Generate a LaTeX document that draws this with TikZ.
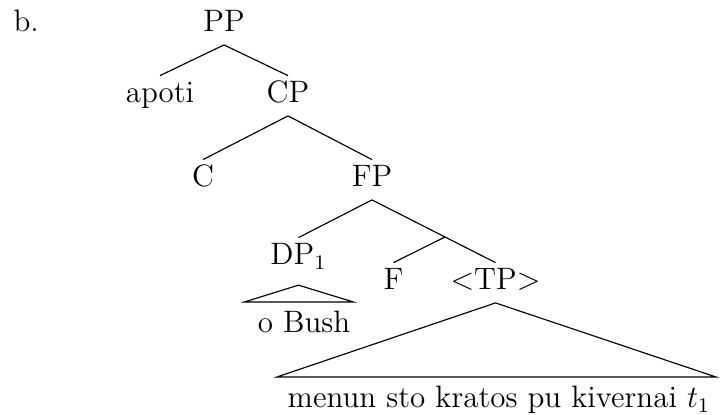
\documentclass[tikz,border=0pt]{standalone}
\begin{document}
\begin{tikzpicture}[x=0.387pt, y=-0.387pt,
  every node/.style={font=\fontsize{12}{14.4}\selectfont},
  lbl/.style={anchor=base, inner xsep=2pt, inner ysep=2pt, text height=8.4pt, text depth=2.8pt},
  leaf/.style={anchor=base, inner xsep=2pt, inner ysep=2pt, text height=9.8pt, text depth=2.8pt},
  branch/.style={line width=0.45pt}]
  \useasboundingbox (0,0) rectangle (721,415);

  % example label
  \node[anchor=base west, inner sep=0pt] (ex) at (13,32) {b.};

  % tree labels
  \node[lbl] (PP) at (224,32) {PP};
  \node[lbl] (apoti) at (160,103) {apoti};
  \node[lbl] (CP) at (288,103) {CP};
  \node[lbl] (C) at (203,187) {C};
  \node[lbl] (FP) at (372,187) {FP};
  \node[lbl, text depth=5.6pt] (DP) at (298.5,265) {DP$_1$};
  \coordinate (Fbar) at (445,237);
  \node[lbl] (F) at (393.5,290) {F};
  \node[lbl] (TP) at (495.5,290) {$<$TP$>$};
  \node[leaf] (bush) at (304,333) {o Bush};
  \node[leaf] (menun) at (499,408) {menun sto kratos pu kivernai $t_1$};

  % branches
  \draw[branch] (apoti.north) -- (PP.south) -- (CP.north);
  \draw[branch] (C.north) -- (CP.south) -- (FP.north);
  \draw[branch] (DP.north) -- (FP.south) -- (Fbar) -- (TP.north);
  \draw[branch] (Fbar) -- (F.north);

  % collapsed constituents
  \draw[branch] (DP.south) -- ([xshift=-3pt]bush.north west) -- ([xshift=-1pt]bush.north east) -- cycle;
  \draw[branch] (TP.south) -- ([xshift=-2pt]menun.north west) -- (menun.north east) -- cycle;
\end{tikzpicture}
\end{document}
